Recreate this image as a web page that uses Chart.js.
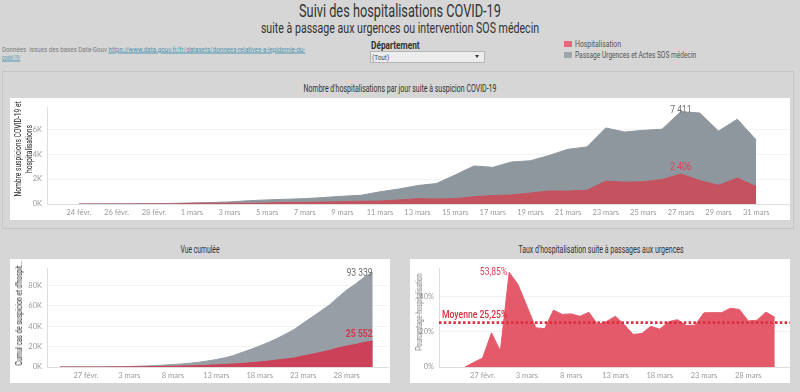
<!DOCTYPE html>
<html><head><meta charset="utf-8">
<script src="https://cdn.jsdelivr.net/npm/chart.js@4.4.1/dist/chart.umd.min.js"></script>
<style>
html,body{margin:0;padding:0;}
body{width:800px;height:392px;background:#d6d6d6;position:relative;overflow:hidden;font-family:'Roboto',sans-serif;color:#333;}
.t{position:absolute;white-space:nowrap;left:0;top:0;}
.white{position:absolute;background:#fff;}
canvas{position:absolute;left:0;top:0;}
</style></head><body>
<div class="t" data-x="400" data-y="11" data-w="202" style="font-size:18.5px;color:#333;">Suivi des hospitalisations COVID-19</div>
<div class="t" data-x="400" data-y="27.5" data-w="278" style="font-size:14.5px;color:#333;">suite à passage aux urgences ou intervention SOS médecin</div>
<div class="t" data-x="2" data-y="49" data-w="303" data-align="l" style="font-size:8px;color:#7a7a7a;">Données&nbsp; issues des bases Data-Gouv <span style="color:#4a93b0;text-decoration:underline;">https://www.data.gouv.fr/fr/datasets/donnees-relatives-a-lepidemie-du-</span></div>
<div class="t" data-x="2" data-y="57" data-w="18.5" data-align="l" style="font-size:8px;color:#4a93b0;text-decoration:underline;">covid-19/</div>
<div class="t" data-x="371" data-y="44.5" data-w="49" data-align="l" style="font-size:10px;font-weight:bold;color:#333;">Département</div>
<div style="position:absolute;left:370px;top:51px;width:113px;height:10px;border:1px solid #b5b5b5;background:#ededed;"></div>
<div class="t" data-x="372" data-y="57" data-w="17.5" data-align="l" style="font-size:8px;color:#444;">(Tout)</div>
<div style="position:absolute;left:475px;top:55px;width:0;height:0;border-left:2.5px solid transparent;border-right:2.5px solid transparent;border-top:3px solid #333;"></div>
<div style="position:absolute;left:564px;top:41px;width:8px;height:6px;background:#e8677a;"></div>
<div class="t" data-x="574.5" data-y="44" data-w="46" data-align="l" style="font-size:8.5px;color:#555;">Hospitalisation</div>
<div style="position:absolute;left:564px;top:52px;width:8px;height:6px;background:#9ea5ab;"></div>
<div class="t" data-x="574.5" data-y="55" data-w="121" data-align="l" style="font-size:8.5px;color:#555;">Passage Urgences et Actes SOS médecin</div>

<div style="position:absolute;left:2px;top:71px;width:790px;height:156px;border:1px solid #c6c6c6;"></div>
<div class="t" data-x="400" data-y="88.3" data-w="193" style="font-size:11.5px;color:#333;">Nombre d'hospitalisations par jour suite à suspicion COVID-19</div>
<div class="white" style="left:10px;top:98px;width:780px;height:122px;"><canvas id="c1" width="780" height="122"></canvas></div>
<div class="t" data-x="18" data-y="149" data-w="95" data-rot="1" style="font-size:8.5px;color:#262626;">Nombre suspicions COVID-19 et</div>
<div class="t" data-x="29" data-y="149" data-w="48" data-rot="1" style="font-size:8.5px;color:#262626;">hospitalisations</div>

<div class="t" data-x="200" data-y="249.3" data-w="39" style="font-size:11.5px;color:#333;">Vue cumulée</div>
<div class="white" style="left:10px;top:259px;width:380px;height:124px;"><canvas id="c2" width="380" height="124"></canvas></div>
<div class="t" data-x="19" data-y="312.5" data-w="105" data-rot="1" style="font-size:9px;color:#262626;">Cumul cas de suspicion et d'hospit...</div>

<div class="t" data-x="600.5" data-y="249" data-w="165" style="font-size:11.5px;color:#333;">Taux d'hospitalisation suite à passages aux urgences</div>
<div class="white" style="left:410px;top:259px;width:380px;height:124px;"><canvas id="c3" width="380" height="124"></canvas></div>
<div class="t" data-x="419" data-y="311.7" data-w="77" data-rot="1" style="font-size:8.5px;color:#777;">Pourcentage-hospitalisation</div>

<script>
// ---- DATA ----
const days = ['24 févr.','25 févr.','26 févr.','27 févr.','28 févr.','29 févr.',
  '1 mars','2 mars','3 mars','4 mars','5 mars','6 mars','7 mars','8 mars','9 mars','10 mars',
  '11 mars','12 mars','13 mars','14 mars','15 mars','16 mars','17 mars','18 mars','19 mars','20 mars',
  '21 mars','22 mars','23 mars','24 mars','25 mars','26 mars','27 mars','28 mars','29 mars','30 mars','31 mars'];
const passages = [0,3,6,15,30,50,90,120,170,260,330,380,430,520,620,700,980,1200,1480,1640,2330,3050,2940,3370,3470,3900,4390,4580,6100,5774,5910,6000,7411,7300,5850,6800,5140];
const hospit = [0,0,0,1,6,5,48,56,59,58,72,123,129,157,184,221,236,319,426,402,431,580,679,725,880,1040,1036,1093,1830,1750,1780,1960,2406,1880,1500,2080,1400];
const cumulPassages = [0,3,9,24,54,104,194,314,484,744,1074,1454,1884,2404,3024,3724,4704,5904,7384,9024,11354,14404,17344,20714,24184,28084,32474,37054,43154,48928,54838,60838,68249,75549,81399,88199,93339];
const cumulHospit = [0,0,0,1,7,12,60,116,175,233,305,428,557,714,898,1119,1355,1674,2100,2502,2933,3513,4192,4917,5797,6837,7873,8966,10796,12546,14326,16286,18692,20572,22072,24152,25552];
const tauxHospit = [null,0,2.6,5.1,19.4,9.1,53.85,46.8,34.6,22.3,21.8,32.3,29.9,30.2,28.8,31.1,24.1,25.9,28.8,24.1,18.5,19.1,23.1,21.5,25.7,26.9,23.6,23.8,30.8,30.9,30.9,33.4,32.7,26.2,26.6,31.2,28.3];
const moyenneTaux = 25.25;
const dailyTicks = ['24 févr.','26 févr.','28 févr.','1 mars','3 mars','5 mars','7 mars','9 mars','11 mars','13 mars','15 mars','17 mars','19 mars','21 mars','23 mars','25 mars','27 mars','29 mars','31 mars'];
const fiveDayTicks = ['27 févr.','3 mars','8 mars','13 mars','18 mars','23 mars','28 mars'];
const dailyYTicks = [0,2000,4000,6000];
const cumulYTicks = [0,20000,40000,60000,80000];
const tauxYTicks = [0,20,40];

// ---- fit html texts to measured widths ----
document.querySelectorAll('.t').forEach(el=>{
  const s = (+el.dataset.w) / el.offsetWidth;
  el.style.left = el.dataset.x + 'px'; el.style.top = el.dataset.y + 'px';
  if (el.dataset.align === 'l') { el.style.transformOrigin = '0 50%'; el.style.transform = `translate(0,-50%) scaleX(${s})`; }
  else el.style.transform = `translate(-50%,-50%)${el.dataset.rot ? ' rotate(-90deg)' : ''} scaleX(${s})`;
});

// ---- helpers ----
const TICKFONT = "'Lato',sans-serif";
const LBLFONT = "'Roboto',sans-serif";
const fmt = v => String(v).replace(/\B(?=(\d{3})+(?!\d))/g,' ');
const pts = arr => arr.map((v,i)=>({x:i,y:v}));
const peakIdx = arr => arr.reduce((b,v,i)=> (v!=null && v>arr[b]) ? i : b, 0);
const last = arr => arr.length-1;

const labelPlugin = {
  id:'annot',
  afterDatasetsDraw(chart, args, opts){
    const ctx = chart.ctx, xs = chart.scales.x, ys = chart.scales.y, ca = chart.chartArea;
    if (opts.mean != null){
      const y = ys.getPixelForValue(opts.mean);
      ctx.save(); ctx.strokeStyle = '#d9303f'; ctx.lineWidth = 2.6; ctx.setLineDash([2.5,2.3]);
      ctx.beginPath(); ctx.moveTo(ca.left, y); ctx.lineTo(ca.right, y); ctx.stroke(); ctx.restore();
    }
    (opts.items||[]).forEach(it=>{
      const px = it.px != null ? it.px(ca) : xs.getPixelForValue(it.x);
      const py = ys.getPixelForValue(it.y);
      const sx = it.sx || 0.82;
      ctx.save(); ctx.font = it.font; ctx.fillStyle = it.color; ctx.textAlign = it.align||'center'; ctx.textBaseline = 'middle';
      ctx.translate(px + (it.dx||0), py + (it.dy||0)); ctx.scale(sx,1);
      ctx.fillText(it.text, 0, 0); ctx.restore();
    });
  }
};

function makeChart(id, cfg){
  const tickFont = {family:TICKFONT, size:7.5};
  return new Chart(document.getElementById(id), {
    type:'line',
    data:{datasets:cfg.datasets.map(d=>({data:pts(d.data), backgroundColor:d.color, borderColor:d.color, borderWidth:1, fill:'origin', pointRadius:0, tension:0}))},
    plugins:[labelPlugin],
    options:{
      animation:false, responsive:false, events:[],
      layout:{padding:cfg.padding},
      plugins:{legend:{display:false}, tooltip:{enabled:false}, annot:cfg.annot},
      scales:{
        x:{type:'linear', min:cfg.xmin, max:cfg.xmax,
           grid:{display:false, drawTicks:false, tickLength:0}, border:{display:true,color:'#dedede'},
           ticks:{font:tickFont, color:'#9a9a9a', padding:4, maxRotation:0, autoSkip:false,
                  callback:(v)=>{const k = cfg.xTickIdx.indexOf(v); return k>=0 ? cfg.xTicks[k] : '';}},
           afterBuildTicks:s=>{s.ticks = cfg.xTickIdx.map(v=>({value:v}));},
           afterFit:s=>{s.height = cfg.xh;}},
        y:{min:0, max:cfg.ymax,
           grid:{color:'#f2f2f2', drawTicks:false, tickLength:0}, border:{display:true,color:'#dedede'},
           ticks:{font:tickFont, color:'#9a9a9a', padding:5, callback:cfg.yfmt},
           afterBuildTicks:s=>{s.ticks = cfg.yTicks.map(v=>({value:v}));},
           afterFit:s=>{s.width = cfg.yw;}}
      }
    }
  });
}

const dailyIdx = dailyTicks.map((t)=>days.indexOf(t));
const fiveIdx = fiveDayTicks.map((t)=>days.indexOf(t));
const pP = peakIdx(passages), pH = peakIdx(hospit), pT = peakIdx(tauxHospit);

makeChart('c1', {
  datasets:[{data:hospit,color:'#c4525f'},{data:passages,color:'#8f979e'}],
  xmin:-1.7, xmax:37.8, ymax:7740, xh:16, yw:37, padding:{left:0,right:0,top:0,bottom:0},
  xTicks:dailyTicks, xTickIdx:dailyIdx, yTicks:dailyYTicks, yfmt:v=>(v/1000)+'K',
  annot:{items:[
    {x:pP, y:passages[pP], text:fmt(passages[pP]), font:`10.5px ${LBLFONT}`, color:'#6f6f6f', dy:-1.5},
    {x:pH, y:hospit[pH], text:fmt(hospit[pH]), font:`10.5px ${LBLFONT}`, color:'#e0405a', dy:-7}
  ]}
});
makeChart('c2', {
  datasets:[{data:cumulHospit,color:'#cc4157'},{data:cumulPassages,color:'#979ea5'}],
  xmin:-1.48, xmax:37.76, ymax:96800, xh:16, yw:37, padding:{left:0,right:2,top:1,bottom:0},
  xTicks:fiveDayTicks, xTickIdx:fiveIdx, yTicks:cumulYTicks, yfmt:v=>(v/1000)+'K',
  annot:{items:[
    {x:last(cumulPassages), y:cumulPassages[last(cumulPassages)], text:fmt(cumulPassages[last(cumulPassages)]), font:`10.5px ${LBLFONT}`, color:'#6f6f6f', align:'right', dy:1},
    {x:last(cumulHospit), y:cumulHospit[last(cumulHospit)], text:fmt(cumulHospit[last(cumulHospit)]), font:`bold 10.5px ${LBLFONT}`, color:'#d03a50', align:'right', dy:-7}
  ]}
});
makeChart('c3', {
  datasets:[{data:tauxHospit,color:'#e45a6b'}],
  xmin:-1.93, xmax:37.72, ymax:56, xh:16, yw:29, padding:{left:0,right:0,top:1,bottom:0},
  xTicks:fiveDayTicks, xTickIdx:fiveIdx, yTicks:tauxYTicks, yfmt:v=>v+'%',
  annot:{mean:moyenneTaux, items:[
    {x:pT, y:tauxHospit[pT], text:tauxHospit[pT].toFixed(2).replace('.',',')+'%', font:`10.5px ${LBLFONT}`, color:'#e0405a', align:'right', dx:-2, dy:0},
    {px:ca=>ca.left+3, y:moyenneTaux, text:'Moyenne '+moyenneTaux.toFixed(2).replace('.',',')+'%', font:`500 10.5px ${LBLFONT}`, color:'#d9303f', align:'left', dy:-7}
  ]}
});
</script>
</body></html>
